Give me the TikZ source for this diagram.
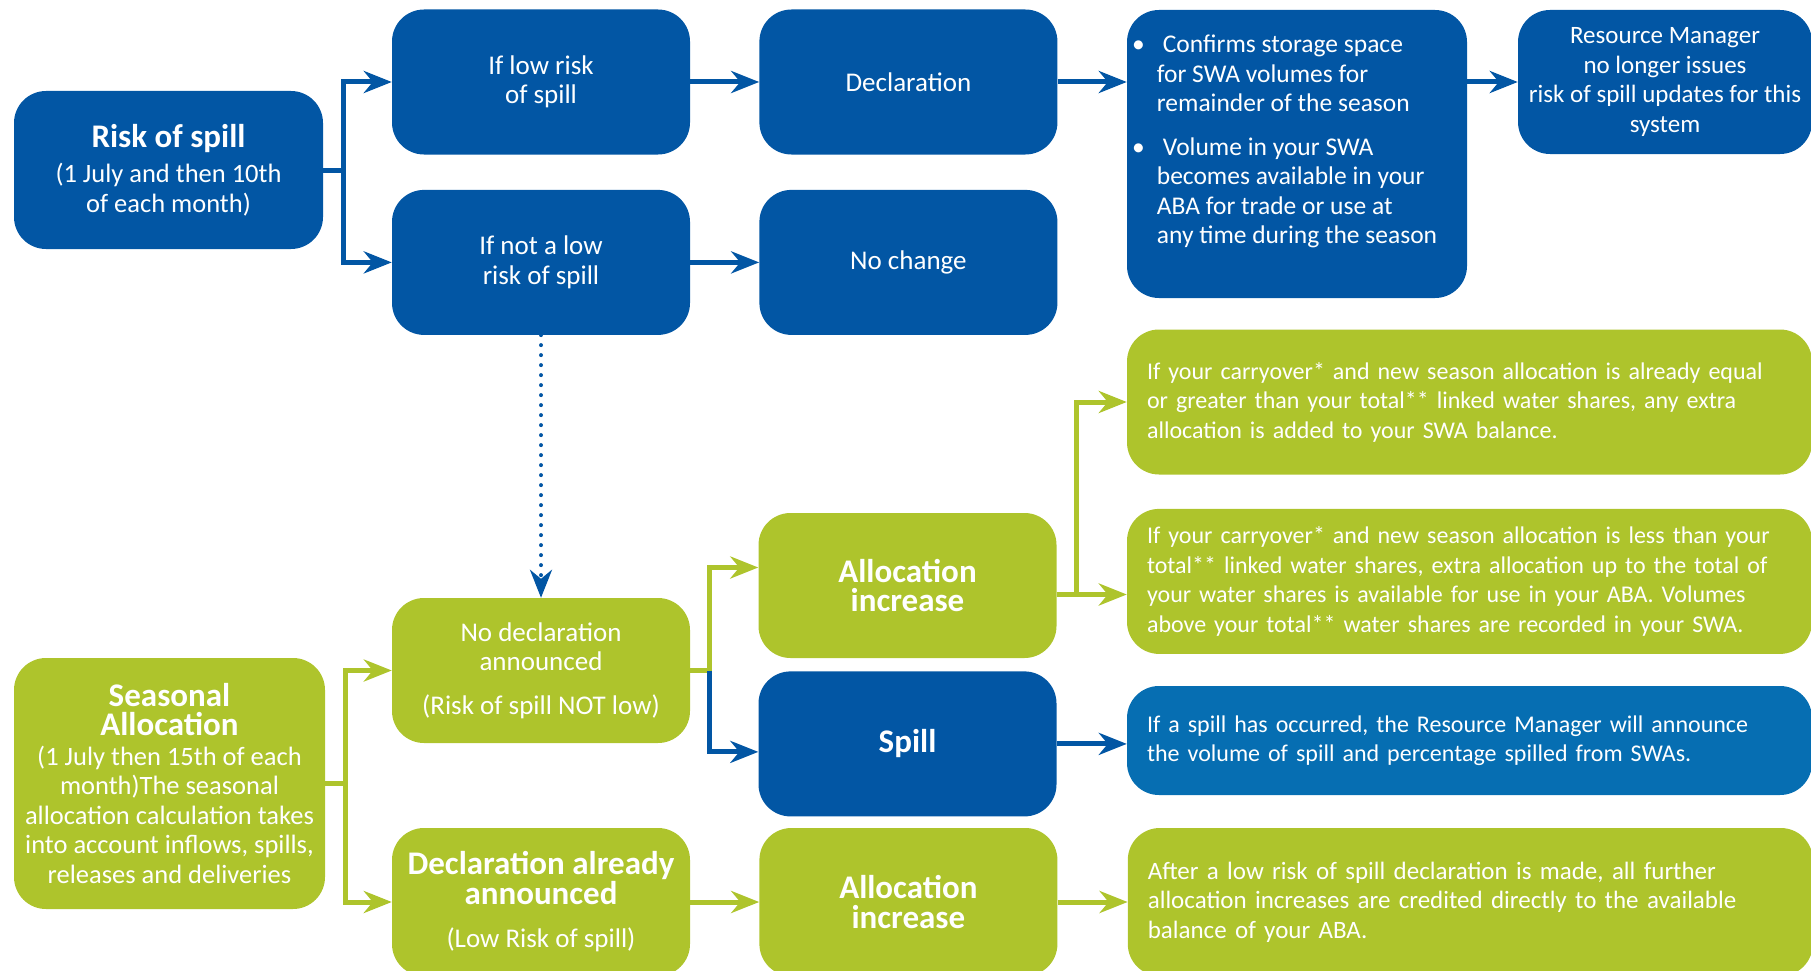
\documentclass[tikz,border=0pt]{standalone}
\usepackage{fontspec}
\setmainfont{Carlito}
\usetikzlibrary{positioning, arrows.meta}

\definecolor{spillblue}{RGB}{2,86,164}
\definecolor{noteblue}{RGB}{6,110,178}
\definecolor{allocgreen}{RGB}{174,196,44}

\newcommand{\boxhead}{\fontsize{33}{33}\selectfont\bfseries}

\begin{document}
\begin{tikzpicture}[x=1pt, y=-1pt, node distance=35pt]
    \tikzstyle{block} = [rectangle, rounded corners=32pt, text=white, align=center, inner sep=0pt, font=\fontsize{26.5}{29.5}\selectfont]
    \tikzstyle{blueblock} = [block, fill=spillblue]
    \tikzstyle{greenblock} = [block, fill=allocgreen]
    \tikzstyle{noteblock} = [block, fill=noteblue]
    \tikzstyle{colbox} = [minimum width=298pt, minimum height=145pt, font=\fontsize{27}{29.5}\selectfont]
    \tikzstyle{widebox} = [minimum width=685pt, minimum height=145pt, align=left, text width=645pt, font=\fontsize{24}{29.5}\selectfont]
    \tikzstyle{link} = [line width=5pt, -{Stealth[length=28pt, width=22pt, inset=9pt]}]

    \useasboundingbox (0,0) rectangle (1811,971);
    \clip (0,0) rectangle (1811,971);

    % risk of spill row
    \node (risk) [blueblock, minimum width=309pt, minimum height=158pt] at (168.5,170) {{\boxhead Risk of spill}\\[6pt](1 July and then 10th\\of each month)};
    \node (low) [blueblock, colbox] at (541,82) {If low risk\\of spill};
    \node (notlow) [blueblock, colbox, below=of low] {If not a low\\risk of spill};
    \node (decl) [blueblock, colbox, right=69pt of low] {Declaration};
    \node (nochange) [blueblock, colbox, right=69pt of notlow] {No change};
    \node (confirms) [blueblock, minimum width=340pt, minimum height=288pt, align=left, font=\fontsize{25.5}{29.5}\selectfont] at (1297,154) {\llap{\textbullet\hspace{12pt}}\hspace*{6pt}Confirms storage space\\for SWA volumes for\\remainder of the season\\[14pt]\llap{\textbullet\hspace{12pt}}\hspace*{6pt}Volume in your SWA\\becomes available in your\\ABA for trade or use at\\any time during the season\\\mbox{}};
    \node (manager) [blueblock, minimum width=294pt, minimum height=144pt, font=\fontsize{25}{29.5}\selectfont] at (1665,82) {Resource Manager\\no longer issues\\risk of spill updates for this\\system};

    % seasonal allocation rows
    \node (seasonal) [greenblock, minimum width=311pt, minimum height=251pt] at (169.5,783.5) {{\boxhead Seasonal}\\{\boxhead Allocation}\\(1 July then 15th of each\\month)The seasonal\\allocation calculation takes\\into account inflows, spills,\\releases and deliveries};
    \node (nodecl) [greenblock, colbox] at (541,670.5) {No declaration\\announced\\[14pt](Risk of spill NOT low)};
    \node (already) [greenblock, colbox, minimum height=148pt] at (541,902) {{\boxhead Declaration already}\\{\boxhead announced}\\[14pt](Low Risk of spill)};
    \node (incA) [greenblock, colbox] at (907.5,585.5) {{\boxhead Allocation}\\{\boxhead increase}};
    \node (spill) [blueblock, colbox, below=13pt of incA] {\boxhead Spill};
    \node (incB) [greenblock, colbox, minimum height=148pt, right=69pt of already] {{\boxhead Allocation}\\{\boxhead increase}};
    \node (equal) [greenblock, widebox] at (1469.5,402) {If your carryover* and new season allocation is already equal\\or greater than your total** linked water shares, any extra\\allocation is added to your SWA balance.};
    \node (less) [greenblock, widebox, below=34pt of equal] {If your carryover* and new season allocation is less than your\\total** linked water shares, extra allocation up to the total of\\your water shares is available for use in your ABA. Volumes\\above your total** water shares are recorded in your SWA.};
    \node (spillnote) [noteblock, widebox, minimum height=109pt] at (1469.5,740.5) {If a spill has occurred, the Resource Manager will announce\\the volume of spill and percentage spilled from SWAs.};
    \node (credit) [greenblock, widebox, minimum height=148pt, right=70pt of incB, font=\fontsize{25}{29.5}\selectfont] {After a low risk of spill declaration is made, all further\\allocation increases are credited directly to the available\\balance of your ABA.};

    % connectors
    \draw [link, spillblue] (risk.east) -- ++(20,0) |- (low.west);
    \draw [link, spillblue] (risk.east) -- ++(20,0) |- (notlow.west);
    \draw [link, spillblue] (low) -- (decl);
    \draw [link, spillblue] (notlow) -- (nochange);
    \draw [link, spillblue] (decl.east) -- (decl.east -| confirms.west);
    \draw [link, spillblue] (confirms.east |- manager.west) -- (manager.west);
    \draw [link, spillblue, line width=4pt, line cap=round, dash pattern=on 0pt off 10pt] (notlow) -- (nodecl);

    \draw [link, allocgreen] (seasonal.east) -- ++(20,0) |- (nodecl.west);
    \draw [link, allocgreen] (seasonal.east) -- ++(20,0) |- (already.west);
    \draw [link, allocgreen] (nodecl.east) -- ++(19,0) coordinate (fork) |- ([yshift=18pt]incA.west);
    \draw [link, spillblue] (fork) |- ([yshift=-8pt]spill.west);
    \draw [link, allocgreen] ([yshift=-9pt]incA.east) -- ++(20,0) |- (equal.west);
    \draw [link, allocgreen] ([yshift=-9pt]incA.east) -- ([yshift=-9pt]incA.east -| less.west);
    \draw [link, spillblue] (spill.east) -- (spill.east -| spillnote.west);
    \draw [link, allocgreen] (already) -- (incB);
    \draw [link, allocgreen] (incB) -- (credit);
\end{tikzpicture}
\end{document}
